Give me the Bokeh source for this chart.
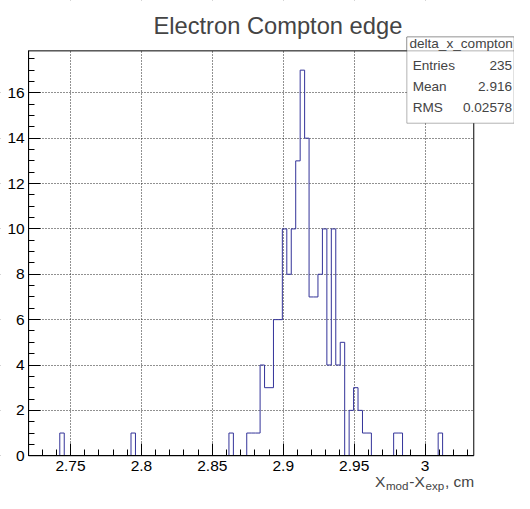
from bokeh.plotting import figure
from bokeh.models import (Range1d, SingleIntervalTicker, CustomJSTickFormatter,
                          BoxAnnotation, Label)
from bokeh.embed import file_html
from bokeh.resources import INLINE

# ---- data (histogram delta_x_compton, 100 bins) ----
n_bins = 100
x_min = 2.7205
x_max = 3.0343
counts = [
    0, 0, 0, 0, 0, 0, 0, 1, 0, 0,
    0, 0, 0, 0, 0, 0, 0, 0, 0, 0,
    0, 0, 0, 1, 0, 0, 0, 0, 0, 0,
    0, 0, 0, 0, 0, 0, 0, 0, 0, 0,
    0, 0, 0, 0, 0, 1, 0, 0, 0, 1,
    1, 1, 4, 3, 3, 6, 6, 10, 8, 10,
    13, 17, 14, 7, 7, 8, 10, 4, 10, 4,
    5, 0, 2, 3, 2, 1, 1, 0, 0, 0,
    0, 0, 1, 1, 0, 0, 0, 0, 0, 0,
    0, 0, 1, 0, 0, 0, 0, 0, 0, 0,
]
y_max = 17.85
title_text = "Electron Compton edge"
hist_name = "delta_x_compton"
stat_names = ["Entries", "Mean", "RMS"]
stat_values = ["235", "2.916", "0.02578"]

FONT = "Liberation Sans"
LINE = "#333399"

# ---- layout: reference canvas pixels scaled into the figure ----
W, H = 514, 493
KX, KY = W / 530.0, H / 509.0


def fxp(rx):
    return rx * KX


def fyp(ry):
    return ry * KY


def fs(size):
    return "%.1fpx" % (size * KY)


FL, FR, FT, FB = fxp(29), fxp(488), fyp(52), fyp(470)   # histogram frame
sx = (FR - FL) / (x_max - x_min)
sy = (FB - FT) / y_max
x_start = x_min - FL / sx
x_end = x_max + (W - FR) / sx
y_start = -(H - FB) / sy
y_end = y_max + FT / sy


def dx(rx):
    return x_min + (fxp(rx) - FL) / sx


def dy(ry):
    return (FB - fyp(ry)) / sy


bw = (x_max - x_min) / n_bins
edges = [x_min + i * bw for i in range(n_bins + 1)]
ys = counts + [counts[-1]]

p = figure(width=W, height=H, output_backend="svg", toolbar_location=None,
           x_range=Range1d(x_start, x_end), y_range=Range1d(y_start, y_end),
           min_border_left=0, min_border_right=0, min_border_top=0,
           min_border_bottom=0, title=None)
p.background_fill_color = "white"
p.border_fill_color = "white"
p.outline_line_color = None

xt = SingleIntervalTicker(interval=0.05, num_minor_ticks=5)
yt = SingleIntervalTicker(interval=2, num_minor_ticks=4)
p.xaxis.ticker = xt
p.yaxis.ticker = yt
p.xgrid.ticker = xt
p.ygrid.ticker = yt
p.xaxis.formatter = CustomJSTickFormatter(code="return String(Number(tick.toFixed(3)));")
p.yaxis.formatter = CustomJSTickFormatter(code="return String(Math.round(tick));")
p.xaxis.fixed_location = 0
p.yaxis.fixed_location = x_min
p.xaxis.bounds = (x_min, x_max)
p.yaxis.bounds = (0, y_max)

for ax in (p.xaxis[0], p.yaxis[0]):
    ax.axis_line_color = "black"
    ax.major_tick_line_color = "black"
    ax.minor_tick_line_color = "black"
    ax.major_tick_in = 12
    ax.major_tick_out = 0
    ax.minor_tick_in = 6
    ax.minor_tick_out = 0
    ax.major_label_text_font = FONT
    ax.major_label_text_font_size = fs(16)
    ax.major_label_text_color = "black"
p.xaxis.major_label_standoff = 5
p.yaxis.major_label_standoff = 4

p.xgrid.bounds = (x_min, x_max)
p.ygrid.bounds = (0, y_max)
for g in (p.xgrid[0], p.ygrid[0]):
    g.grid_line_color = "#222222"
    g.grid_line_dash = "1 2"
    g.grid_line_width = 1

# histogram outline
p.step(edges, ys, mode="after", line_color=LINE, line_width=1)

# white masks outside the histogram frame (grid lines stop at the frame)
p.quad(left=[x_start, x_max, x_min, x_min], right=[x_min, x_end, x_max, x_max],
       bottom=[y_start, y_start, y_start, y_max], top=[y_end, y_end, 0, y_end],
       fill_color="white", line_color=None)
# frame
p.quad(left=[x_min], right=[x_max], bottom=[0], top=[y_max],
       fill_color=None, line_color="black", line_width=1)

# title
p.add_layout(Label(x=dx(286), y=dy(26.5), text=title_text, text_font=FONT,
                   text_font_size=fs(24.5), text_align="center",
                   text_baseline="alphabetic"))

# stats box
bl, br, bt, bh, bb = 419, 529.6, 37.7, 52, 126.7
p.add_layout(BoxAnnotation(left=dx(bl), right=dx(br), top=dy(bt), bottom=dy(bb),
                           fill_color="white", fill_alpha=1.0,
                           line_color="black", line_width=1))
p.add_layout(BoxAnnotation(left=dx(bl), right=dx(br), top=dy(bt), bottom=dy(bh),
                           fill_color="white", fill_alpha=1.0,
                           line_color="black", line_width=1))
p.add_layout(Label(x=dx(475), y=dy(44.5), text=hist_name,
                   text_font=FONT, text_font_size=fs(14), text_align="center",
                   text_baseline="middle"))
row_ry = [66.7, 88.3, 110.0]
for name, val, ry in zip(stat_names, stat_values, row_ry):
    p.add_layout(Label(x=dx(425), y=dy(ry), text=name, text_font=FONT,
                       text_font_size=fs(14), text_align="left",
                       text_baseline="middle"))
    p.add_layout(Label(x=dx(527.5), y=dy(ry), text=val, text_font=FONT,
                       text_font_size=fs(14), text_align="right",
                       text_baseline="middle"))

# axis title X_mod - X_exp, cm
main_b, sub_b = 497.0, 500.5
pieces = [("X", 396.7, main_b, 16), ("mod", 420.7, sub_b, 12),
          ("-X", 437.5, main_b, 16), ("exp", 457.5, sub_b, 12),
          (", cm", 488.5, main_b, 16)]
for txt, rx, ry, size in pieces:
    p.add_layout(Label(x=dx(rx), y=dy(ry), text=txt, text_font=FONT,
                       text_font_size=fs(size), text_align="right",
                       text_baseline="alphabetic"))

open("out.html", "w").write(file_html(p, INLINE))
